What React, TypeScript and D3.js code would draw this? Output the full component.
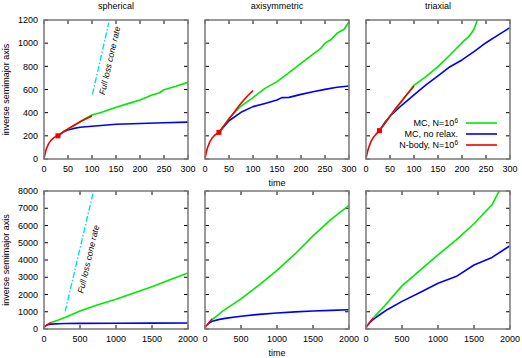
import React from 'react';
import { scaleLinear, line, range } from 'd3';

type Pt = [number, number];

// ---- data (time, inverse semimajor axis) ----
const panelTitles = ['spherical', 'axisymmetric', 'triaxial'];
const legendLabels = ['MC, N=10', 'MC, no relax.', 'N-body, N=10'];

// top row: short runs (t <= 300)
const redTop: Pt[][] = [
    [[0, 0], [2, 40], [5, 90], [10, 135], [15, 163], [20, 182], [25, 195], [29, 200], [40, 235], [50, 260], [60, 285], [70, 308], [80, 332], [90, 352], [100, 372]],
    [[0, 0], [2, 45], [5, 95], [10, 148], [15, 182], [20, 205], [29, 230], [40, 290], [50, 345], [60, 400], [70, 455], [80, 505], [90, 550], [100, 590]],
    [[0, 0], [2, 45], [5, 90], [10, 148], [15, 185], [20, 210], [28, 245], [40, 310], [50, 370], [60, 428], [70, 480], [80, 530], [90, 580], [100, 630]]
];
const squareTop: Pt[] = [[29, 200], [29, 230], [28, 245]];
const greenTop: Pt[][] = [
    [[29, 200], [40, 235], [50, 258], [60, 282], [75, 320], [90, 358], [100, 380], [115, 397], [125, 410], [150, 446], [175, 478], [200, 510], [225, 552], [240, 570], [250, 598], [275, 628], [300, 662]],
    [[29, 230], [50, 351], [75, 457], [100, 530], [125, 610], [150, 668], [175, 745], [200, 826], [225, 905], [240, 950], [250, 1000], [262, 1030], [275, 1085], [290, 1120], [300, 1186]],
    [[28, 245], [50, 368], [75, 500], [100, 636], [125, 711], [150, 797], [175, 898], [200, 1004], [215, 1060], [225, 1120], [232, 1200]]
];
const blueTop: Pt[][] = [
    [[29, 200], [40, 232], [50, 250], [60, 262], [75, 274], [100, 283], [125, 292], [150, 300], [200, 307], [250, 313], [300, 318]],
    [[29, 230], [50, 330], [75, 403], [100, 452], [125, 480], [150, 510], [160, 530], [175, 532], [200, 558], [225, 581], [250, 601], [275, 619], [300, 630]],
    [[28, 245], [40, 320], [50, 370], [75, 466], [100, 553], [125, 639], [150, 717], [175, 797], [200, 855], [225, 927], [250, 1004], [275, 1070], [300, 1134]]
];

// bottom row: long runs (t <= 2000)
const redBottom: Pt[][] = [
    [[0, 0], [10, 140], [29, 200], [50, 260], [75, 322], [100, 372]],
    [[0, 0], [10, 148], [29, 230], [50, 345], [75, 470], [100, 590]],
    [[0, 0], [10, 148], [28, 245], [50, 370], [75, 505], [100, 630]]
];
const greenBottom: Pt[][] = [
    [[100, 380], [200, 520], [300, 680], [500, 1040], [750, 1400], [1000, 1720], [1250, 2090], [1500, 2450], [1750, 2850], [2000, 3250]],
    [[100, 550], [250, 1050], [500, 1750], [750, 2550], [1000, 3400], [1250, 4350], [1500, 5400], [1750, 6350], [2000, 7170]],
    [[100, 640], [250, 1300], [500, 2500], [750, 3400], [1000, 4300], [1250, 5150], [1500, 6100], [1750, 7200], [1850, 8000]]
];
const blueBottom: Pt[][] = [
    [[29, 200], [50, 250], [100, 283], [200, 307], [300, 318], [500, 325], [1000, 333], [1500, 340], [2000, 346]],
    [[29, 230], [50, 330], [100, 452], [200, 558], [300, 630], [500, 740], [750, 850], [1000, 930], [1250, 990], [1500, 1040], [1750, 1080], [2000, 1115]],
    [[28, 245], [50, 370], [100, 553], [200, 855], [300, 1134], [500, 1600], [750, 2115], [1000, 2650], [1250, 3040], [1500, 3710], [1750, 4150], [2000, 4830]]
];

// full loss cone rate (spherical only)
const coneTop: Pt[] = [[101, 558], [135, 1177]];
const coneBottom: Pt[] = [[294, 1019], [688, 8000]];

const xTicksTop = range(0, 301, 50);
const yTicksTop = range(0, 1201, 200);
const xTicksBottom = range(0, 2001, 500);
const yTicksBottom = range(0, 8001, 1000);

const W = 522;
const H = 358;
const panelLeft = [44, 205, 366];
const panelW = 144;
const rows = [
    { top: 20, bottom: 159, xMax: 300, yMax: 1200, xt: xTicksTop, yt: yTicksTop, red: redTop, green: greenTop, blue: blueTop, cone: coneTop, sq: true },
    { top: 191, bottom: 329, xMax: 2000, yMax: 8000, xt: xTicksBottom, yt: yTicksBottom, red: redBottom, green: greenBottom, blue: blueBottom, cone: coneBottom, sq: false }
];

const GREEN = '#00e800';
const BLUE = '#0000ee';
const RED = '#ee0000';
const CYAN = '#00e0e0';
const FRAME = '#808080';
const font = 'Liberation Sans, Arial, Helvetica, sans-serif';

const Panel = ({ row, ri, pi }: { row: any; ri: number; pi: number }) => {
    const x0 = panelLeft[pi];
    const x = scaleLinear().domain([0, row.xMax]).range([x0, x0 + panelW]);
    const y = scaleLinear().domain([0, row.yMax]).range([row.bottom, row.top]);
    const path = line<Pt>().x((d) => x(d[0])).y((d) => y(d[1]));
    const clipId = `clip-${ri}-${pi}`;
    const tl = 4;
    const cone = row.cone as Pt[];
    const angle = (Math.atan2(y(cone[1][1]) - y(cone[0][1]), x(cone[1][0]) - x(cone[0][0])) * 180) / Math.PI;
    const cx = (x(cone[0][0]) + x(cone[1][0])) / 2 + 9;
    const cy = (y(cone[0][1]) + y(cone[1][1])) / 2 + (ri === 0 ? 2 : 8);

    return (
        <g>
            <defs>
                <clipPath id={clipId}>
                    <rect x={x0} y={row.top} width={panelW} height={row.bottom - row.top} />
                </clipPath>
            </defs>
            {/* ticks, mirrored on all sides */}
            {row.xt.map((t: number) => (
                <g key={'xt' + t} stroke="#000" strokeWidth={1}>
                    <line x1={x(t)} x2={x(t)} y1={row.bottom} y2={row.bottom - tl} />
                    <line x1={x(t)} x2={x(t)} y1={row.top} y2={row.top + tl} />
                </g>
            ))}
            {row.yt.map((t: number) => (
                <g key={'yt' + t} stroke="#000" strokeWidth={1}>
                    <line x1={x0} x2={x0 + tl} y1={y(t)} y2={y(t)} />
                    <line x1={x0 + panelW} x2={x0 + panelW - tl} y1={y(t)} y2={y(t)} />
                </g>
            ))}
            <g clipPath={`url(#${clipId})`} fill="none" strokeWidth={1.6} strokeLinejoin="round">
                <path d={path(row.blue[pi]) || ''} stroke={BLUE} />
                <path d={path(row.green[pi]) || ''} stroke={GREEN} />
                <path d={path(row.red[pi]) || ''} stroke={RED} />
                {row.sq && (
                    <rect
                        x={x(squareTop[pi][0]) - 2.5}
                        y={y(squareTop[pi][1]) - 2.5}
                        width={5}
                        height={5}
                        fill={RED}
                        stroke="none"
                    />
                )}
                {pi === 0 && (
                    <path d={path(cone) || ''} stroke={CYAN} strokeWidth={1.4} strokeDasharray="6,2,1.5,2" />
                )}
            </g>
            {pi === 0 && (
                <text
                    x={cx}
                    y={cy}
                    transform={`rotate(${angle},${cx},${cy})`}
                    textAnchor="middle"
                    fontSize={8.6}
                    fontStyle="italic"
                    fontFamily={font}
                    dominantBaseline="central"
                >
                    Full loss cone rate
                </text>
            )}
            <rect x={x0} y={row.top} width={panelW} height={row.bottom - row.top} fill="none" stroke={FRAME} strokeWidth={1.6} />
            {/* tick labels */}
            {row.xt.map((t: number) => (
                <text key={'xl' + t} x={x(t)} y={row.bottom + 13} textAnchor="middle" fontSize={9} fontFamily={font}>
                    {t}
                </text>
            ))}
            {pi === 0 &&
                row.yt.map((t: number) => (
                    <text key={'yl' + t} x={x0 - 6} y={y(t) + 3.2} textAnchor="end" fontSize={9} fontFamily={font}>
                        {t}
                    </text>
                ))}
            {pi === 0 && (
                <text
                    transform={`translate(9,${(row.top + row.bottom) / 2}) rotate(-90)`}
                    textAnchor="middle"
                    fontSize={9}
                    fontFamily={font}
                >
                    inverse semimajor axis
                </text>
            )}
            {pi === 1 && (
                <text x={x0 + panelW / 2} y={row.bottom + 27} textAnchor="middle" fontSize={9} fontFamily={font}>
                    time
                </text>
            )}
            {ri === 0 && (
                <text x={x0 + panelW / 2} y={9} textAnchor="middle" fontSize={9} fontFamily={font}>
                    {panelTitles[pi]}
                </text>
            )}
        </g>
    );
};

const Legend = () => {
    const colors = [GREEN, BLUE, RED];
    const textRight = 458;
    return (
        <g>
            {legendLabels.map((lab, i) => {
                const yy = 123 + i * 11;
                const sup = i !== 1;
                return (
                    <g key={lab}>
                        <text x={textRight} y={yy + 3.2} textAnchor="end" fontSize={9} fontFamily={font}>
                            {lab}
                            {sup && (
                                <tspan fontSize={6.5} dy={-3.5}>
                                    6
                                </tspan>
                            )}
                        </text>
                        <line x1={466} x2={497} y1={yy} y2={yy} stroke={colors[i]} strokeWidth={1.6} />
                    </g>
                );
            })}
        </g>
    );
};

export default function App() {
    return (
        <svg width={W} height={H} style={{ display: 'block', position: 'absolute', left: 0, top: 0, background: '#fff' }}>
            {rows.map((row, ri) => panelLeft.map((_, pi) => <Panel key={`${ri}-${pi}`} row={row} ri={ri} pi={pi} />))}
            <Legend />
        </svg>
    );
}
